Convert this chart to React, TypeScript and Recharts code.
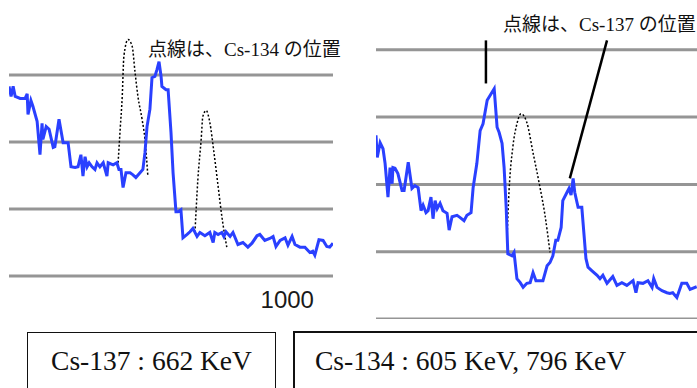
import { LineChart, Line, XAxis, YAxis, ReferenceLine } from 'recharts';

// x = energy (keV), y = counts in grid units (one grid step = 1)
const cs137Spectrum = [
  { kev: 317, v: 2.83 }, { kev: 322, v: 2.68 }, { kev: 327, v: 2.83 }, { kev: 332, v: 2.68 },
  { kev: 344, v: 2.65 }, { kev: 356, v: 2.65 }, { kev: 361, v: 2.72 }, { kev: 363, v: 2.41 },
  { kev: 370, v: 2.62 }, { kev: 375, v: 2.53 }, { kev: 385, v: 2.31 }, { kev: 392, v: 1.81 },
  { kev: 397, v: 2.28 }, { kev: 399, v: 2.04 }, { kev: 407, v: 2.23 }, { kev: 414, v: 2.19 },
  { kev: 424, v: 1.92 }, { kev: 428, v: 1.93 }, { kev: 438, v: 2.34 }, { kev: 448, v: 1.99 },
  { kev: 455, v: 1.99 }, { kev: 460, v: 1.99 }, { kev: 467, v: 1.63 }, { kev: 477, v: 1.62 },
  { kev: 484, v: 1.63 }, { kev: 491, v: 1.81 }, { kev: 496, v: 1.49 }, { kev: 501, v: 1.78 },
  { kev: 506, v: 1.63 }, { kev: 511, v: 1.69 }, { kev: 518, v: 1.63 }, { kev: 525, v: 1.59 },
  { kev: 530, v: 1.69 }, { kev: 537, v: 1.63 }, { kev: 545, v: 1.69 }, { kev: 554, v: 1.49 },
  { kev: 557, v: 1.69 }, { kev: 569, v: 1.66 }, { kev: 578, v: 1.69 }, { kev: 583, v: 1.59 },
  { kev: 588, v: 1.59 }, { kev: 593, v: 1.32 }, { kev: 600, v: 1.54 }, { kev: 610, v: 1.54 },
  { kev: 617, v: 1.51 }, { kev: 624, v: 1.47 }, { kev: 634, v: 1.54 }, { kev: 641, v: 1.59 },
  { kev: 646, v: 1.84 }, { kev: 651, v: 2.23 }, { kev: 658, v: 2.49 }, { kev: 663, v: 2.96 },
  { kev: 670, v: 2.98 }, { kev: 675, v: 3.08 }, { kev: 680, v: 3.2 }, { kev: 685, v: 2.98 },
  { kev: 687, v: 2.83 }, { kev: 697, v: 2.78 }, { kev: 702, v: 2.78 }, { kev: 709, v: 2.14 },
  { kev: 714, v: 1.54 }, { kev: 721, v: 0.96 }, { kev: 726, v: 0.96 }, { kev: 733, v: 0.99 },
  { kev: 738, v: 0.57 }, { kev: 748, v: 0.62 }, { kev: 755, v: 0.66 }, { kev: 762, v: 0.71 },
  { kev: 772, v: 0.59 }, { kev: 779, v: 0.65 }, { kev: 791, v: 0.6 }, { kev: 803, v: 0.65 },
  { kev: 811, v: 0.5 }, { kev: 815, v: 0.65 }, { kev: 823, v: 0.62 }, { kev: 832, v: 0.65 },
  { kev: 837, v: 0.59 }, { kev: 842, v: 0.66 }, { kev: 852, v: 0.59 }, { kev: 859, v: 0.65 },
  { kev: 871, v: 0.47 }, { kev: 883, v: 0.5 }, { kev: 895, v: 0.43 }, { kev: 905, v: 0.49 },
  { kev: 917, v: 0.6 }, { kev: 924, v: 0.62 }, { kev: 936, v: 0.53 }, { kev: 948, v: 0.56 },
  { kev: 956, v: 0.59 }, { kev: 963, v: 0.44 }, { kev: 973, v: 0.53 }, { kev: 985, v: 0.57 },
  { kev: 992, v: 0.46 }, { kev: 1002, v: 0.59 }, { kev: 1009, v: 0.47 }, { kev: 1021, v: 0.43 },
  { kev: 1033, v: 0.43 }, { kev: 1045, v: 0.35 }, { kev: 1052, v: 0.37 }, { kev: 1057, v: 0.31 },
  { kev: 1067, v: 0.54 }, { kev: 1077, v: 0.53 }, { kev: 1086, v: 0.44 }, { kev: 1093, v: 0.43 },
  { kev: 1101, v: 0.49 },
];

// dotted Cs-134 reference peaks drawn on the Cs-137 spectrum
const cs134Peak605 = [
  { kev: 581, v: 1.69 }, { kev: 586, v: 2.19 }, { kev: 591, v: 2.68 }, { kev: 595, v: 3.28 },
  { kev: 605, v: 3.53 }, { kev: 615, v: 3.43 }, { kev: 622, v: 3.04 }, { kev: 629, v: 2.68 },
  { kev: 639, v: 2.34 }, { kev: 646, v: 2.04 }, { kev: 653, v: 1.49 },
];
const cs134Peak796 = [
  { kev: 767, v: 0.65 }, { kev: 774, v: 1.44 }, { kev: 782, v: 2.04 }, { kev: 786, v: 2.38 },
  { kev: 794, v: 2.47 }, { kev: 803, v: 2.29 }, { kev: 813, v: 1.84 }, { kev: 823, v: 1.34 },
  { kev: 832, v: 0.89 }, { kev: 844, v: 0.43 },
];

const cs134Spectrum = [
  { kev: 317, v: 2.73 }, { kev: 320, v: 2.4 }, { kev: 327, v: 2.62 }, { kev: 334, v: 2.53 },
  { kev: 339, v: 2.31 }, { kev: 346, v: 1.81 }, { kev: 351, v: 2.25 }, { kev: 356, v: 2.01 },
  { kev: 358, v: 2.25 }, { kev: 363, v: 2.24 }, { kev: 370, v: 2.16 }, { kev: 380, v: 1.91 },
  { kev: 385, v: 1.91 }, { kev: 395, v: 2.33 }, { kev: 404, v: 1.94 }, { kev: 411, v: 1.98 },
  { kev: 419, v: 1.95 }, { kev: 426, v: 1.61 }, { kev: 431, v: 1.69 }, { kev: 438, v: 1.58 },
  { kev: 443, v: 1.61 }, { kev: 450, v: 1.81 }, { kev: 455, v: 1.49 }, { kev: 460, v: 1.76 },
  { kev: 465, v: 1.64 }, { kev: 472, v: 1.72 }, { kev: 479, v: 1.61 }, { kev: 489, v: 1.57 },
  { kev: 494, v: 1.32 }, { kev: 501, v: 1.52 }, { kev: 513, v: 1.54 }, { kev: 520, v: 1.51 },
  { kev: 530, v: 1.46 }, { kev: 537, v: 1.54 }, { kev: 547, v: 1.58 }, { kev: 552, v: 1.95 },
  { kev: 561, v: 2.31 }, { kev: 569, v: 2.8 }, { kev: 576, v: 2.9 }, { kev: 586, v: 3.25 },
  { kev: 593, v: 3.32 }, { kev: 603, v: 3.42 }, { kev: 610, v: 2.85 }, { kev: 615, v: 2.77 },
  { kev: 622, v: 2.61 }, { kev: 627, v: 2.25 }, { kev: 632, v: 1.66 }, { kev: 636, v: 0.97 },
  { kev: 646, v: 0.94 }, { kev: 651, v: 0.99 }, { kev: 658, v: 0.6 }, { kev: 666, v: 0.54 },
  { kev: 673, v: 0.47 }, { kev: 682, v: 0.53 }, { kev: 690, v: 0.54 }, { kev: 697, v: 0.69 },
  { kev: 704, v: 0.57 }, { kev: 714, v: 0.57 }, { kev: 721, v: 0.57 }, { kev: 731, v: 0.79 },
  { kev: 738, v: 0.84 }, { kev: 745, v: 0.94 }, { kev: 752, v: 1.17 }, { kev: 757, v: 1.17 },
  { kev: 765, v: 1.36 }, { kev: 769, v: 1.76 }, { kev: 779, v: 1.88 }, { kev: 784, v: 1.94 },
  { kev: 789, v: 1.84 }, { kev: 794, v: 2.09 }, { kev: 798, v: 1.88 }, { kev: 806, v: 1.66 },
  { kev: 815, v: 1.66 }, { kev: 825, v: 0.9 }, { kev: 830, v: 0.77 }, { kev: 839, v: 0.72 },
  { kev: 852, v: 0.65 }, { kev: 859, v: 0.6 }, { kev: 866, v: 0.65 }, { kev: 876, v: 0.53 },
  { kev: 890, v: 0.63 }, { kev: 900, v: 0.5 }, { kev: 912, v: 0.54 }, { kev: 924, v: 0.5 },
  { kev: 939, v: 0.57 }, { kev: 946, v: 0.39 }, { kev: 951, v: 0.54 }, { kev: 963, v: 0.53 },
  { kev: 975, v: 0.57 }, { kev: 985, v: 0.47 }, { kev: 989, v: 0.6 }, { kev: 997, v: 0.47 },
  { kev: 1009, v: 0.42 }, { kev: 1021, v: 0.39 }, { kev: 1028, v: 0.38 }, { kev: 1035, v: 0.39 },
  { kev: 1045, v: 0.32 }, { kev: 1057, v: 0.53 }, { kev: 1069, v: 0.53 }, { kev: 1077, v: 0.44 },
  { kev: 1093, v: 0.48 },
];

// dotted Cs-137 reference peak on the Cs-134 spectrum
const cs137Peak662 = [
  { kev: 634, v: 1.2 }, { kev: 639, v: 1.91 }, { kev: 648, v: 2.55 }, { kev: 658, v: 2.9 },
  { kev: 668, v: 3.05 }, { kev: 682, v: 2.92 }, { kev: 697, v: 2.47 }, { kev: 714, v: 1.95 },
  { kev: 726, v: 1.54 }, { kev: 738, v: 0.99 },
];

// pointer lines from the right-hand annotation
const pointer605 = [{ x: 583, y: 4.14 }, { x: 583, y: 3.5 }];
const pointer796 = [{ x: 876, y: 4.14 }, { x: 786, y: 2.09 }];

const leftGrid = [0, 1, 2, 3];
const rightGrid = [0, 1, 2, 3, 4];
const xTicks = [1000];
const xDomain = [317, 1101];

const BLUE = '#2a40ff';
const GRID = '#959595';
const SERIF = "'Liberation Serif', 'Noto Sans CJK JP', serif";

export default function App() {
  return (
    <div style={{ position: 'absolute', left: 0, top: 0, width: 697, height: 388, overflow: 'hidden', background: '#fff', fontFamily: SERIF }}>
      {/* Cs-137 spectrum */}
      <div style={{ position: 'absolute', left: 9, top: 8 }}>
        <LineChart width={324} height={304} margin={{ top: 0, right: 0, bottom: 0, left: 0 }}>
          <XAxis
            type="number"
            dataKey="kev"
            domain={xDomain}
            ticks={xTicks}
            height={36}
            axisLine={false}
            tickLine={false}
            tickSize={0}
            tickMargin={15}
            tick={{ fontSize: 24, fill: '#1a1a1a', fontFamily: "'Liberation Sans', Arial, sans-serif", dx: -4 }}
            allowDataOverflow
          />
          <YAxis type="number" domain={[0, 4]} hide allowDataOverflow />
          {leftGrid.map((g) => (
            <ReferenceLine key={g} y={g} stroke={GRID} strokeWidth={3} />
          ))}
          <Line data={cs134Peak605} dataKey="v" type="monotone" stroke="#000" strokeWidth={1.5} strokeDasharray="2 2" dot={false} isAnimationActive={false} />
          <Line data={cs134Peak796} dataKey="v" type="monotone" stroke="#000" strokeWidth={1.5} strokeDasharray="2 2" dot={false} isAnimationActive={false} />
          <Line data={cs137Spectrum} dataKey="v" type="linear" stroke={BLUE} strokeWidth={3} dot={false} isAnimationActive={false} />
        </LineChart>
      </div>
      <div style={{ position: 'absolute', left: 148, top: 34, fontSize: 19, whiteSpace: 'nowrap', color: '#111' }}>
        点線は、Cs-134 の位置
      </div>

      {/* Cs-134 spectrum */}
      <div style={{ position: 'absolute', left: 376, top: 0 }}>
        <LineChart width={324} height={319} margin={{ top: 0, right: 0, bottom: 0, left: 0 }}>
          <XAxis type="number" dataKey="kev" domain={xDomain} hide allowDataOverflow />
          <YAxis type="number" domain={[0, 4.74]} hide allowDataOverflow />
          {rightGrid.map((g) => (
            <ReferenceLine key={g} y={g} stroke={GRID} strokeWidth={3} />
          ))}
          <ReferenceLine segment={pointer605} stroke="#000" strokeWidth={2.5} />
          <ReferenceLine segment={pointer796} stroke="#000" strokeWidth={2.5} />
          <Line data={cs137Peak662} dataKey="v" type="monotone" stroke="#000" strokeWidth={1.5} strokeDasharray="2 2" dot={false} isAnimationActive={false} />
          <Line data={cs134Spectrum} dataKey="v" type="linear" stroke={BLUE} strokeWidth={3} dot={false} isAnimationActive={false} />
        </LineChart>
      </div>
      <div style={{ position: 'absolute', left: 503, top: 9, fontSize: 19, whiteSpace: 'nowrap', color: '#111' }}>
        点線は、Cs-137 の位置
      </div>

      {/* energy boxes */}
      <div style={{ position: 'absolute', left: 27, top: 332, width: 249, height: 80, border: '1.5px solid #111', boxSizing: 'border-box' }}>
        <div style={{ position: 'absolute', left: 0, right: 0, top: 12, textAlign: 'center', fontSize: 27.5, whiteSpace: 'nowrap', color: '#111', fontFamily: "'Liberation Serif', serif" }}>
          Cs-137 : 662 KeV
        </div>
      </div>
      <div style={{ position: 'absolute', left: 293, top: 331, width: 420, height: 80, border: '2px solid #111', boxSizing: 'border-box' }}>
        <div style={{ position: 'absolute', left: 20, top: 12, fontSize: 27.5, whiteSpace: 'nowrap', color: '#111', fontFamily: "'Liberation Serif', serif" }}>
          Cs-134 : 605 KeV, 796 KeV
        </div>
      </div>
    </div>
  );
}
